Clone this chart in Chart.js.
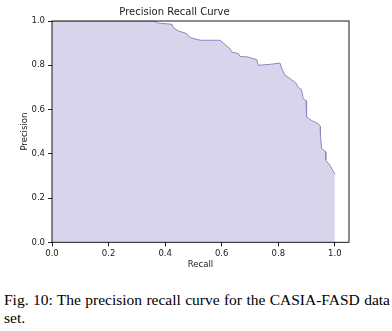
<!DOCTYPE html>
<html>
<head>
<meta charset="utf-8">
<script src="https://cdn.jsdelivr.net/npm/chart.js@4/dist/chart.umd.min.js"></script>
<style>
  html, body { margin: 0; padding: 0; background: #fff; overflow: hidden; }
  #wrap { position: absolute; left: 0; top: 0; width: 392px; height: 280px; }
  #caption {
    position: absolute; left: 4px; top: 291px; width: 386px;
    font-family: "Liberation Serif", serif; font-size: 15.5px; line-height: 18px;
    text-align: justify; color: #000;
  }
</style>
</head>
<body>
<div id="wrap"><canvas id="myChart" width="392" height="280"></canvas></div>
<div id="caption">Fig. 10: The precision recall curve for the CASIA-FASD data set.</div>
<script>
// values
const recall = [0, 0.359, 0.376, 0.424, 0.429, 0.447, 0.476, 0.488, 0.524, 0.594, 0.606, 0.629, 0.635, 0.659, 0.665, 0.694, 0.724, 0.729, 0.771, 0.806, 0.815, 0.824, 0.841, 0.862, 0.871, 0.882, 0.888, 0.898, 0.900, 0.918, 0.941, 0.949, 0.949, 0.953, 0.968, 0.968, 0.982, 0.992, 1.0];
const precision = [1.0, 1.0, 0.991, 0.985, 0.970, 0.955, 0.943, 0.925, 0.913, 0.913, 0.900, 0.875, 0.860, 0.853, 0.840, 0.837, 0.825, 0.800, 0.804, 0.810, 0.777, 0.755, 0.740, 0.720, 0.700, 0.690, 0.650, 0.640, 0.567, 0.550, 0.536, 0.524, 0.490, 0.424, 0.409, 0.371, 0.349, 0.326, 0.307];
const xTicks = [0, 0.2, 0.4, 0.6, 0.8, 1.0];
const yTicks = [0, 0.2, 0.4, 0.6, 0.8, 1.0];

const points = recall.map((r, i) => ({x: r, y: precision[i]}));
const tickFont = {family: 'DejaVu Sans', size: 8.5};

// top/left/bottom/right frame like matplotlib spines
const frame = {
  id: 'frame',
  afterDatasetsDraw(chart) {
    const a = chart.chartArea, c = chart.ctx;
    c.save();
    c.strokeStyle = '#000';
    c.lineWidth = 0.9;
    c.strokeRect(a.left, a.top, a.right - a.left, a.bottom - a.top);
    c.restore();
  }
};

const ctx = document.getElementById('myChart').getContext('2d');
const myChart = new Chart(ctx, {
  type: 'line',
  data: {
    datasets: [{
      data: points,
      borderColor: 'rgb(140, 136, 192)',
      backgroundColor: 'rgb(216, 212, 236)',
      borderWidth: 1,
      pointRadius: 0,
      tension: 0,
      fill: 'origin'
    }]
  },
  options: {
    responsive: false,
    animation: false,
    layout: {padding: {left: 0, right: 43, top: 0, bottom: 0}},
    plugins: {
      legend: {display: false},
      tooltip: {enabled: false},
      title: {
        display: true,
        text: 'Precision Recall Curve',
        color: '#1a1a1a',
        font: {family: 'DejaVu Sans', size: 10, weight: 'normal'},
        padding: {top: 6, bottom: 3}
      }
    },
    scales: {
      x: {
        type: 'linear',
        min: 0, max: 1.05,
        afterBuildTicks: s => { s.ticks = xTicks.map(v => ({value: v})); },
        afterFit: s => { s.height = 37.7; },
        grid: {drawOnChartArea: false, drawTicks: true, tickLength: 4, color: '#222'},
        border: {display: false},
        ticks: {color: '#1a1a1a', font: tickFont, padding: 2, maxRotation: 0,
                callback: v => v.toFixed(1)},
        title: {display: true, text: 'Recall', color: '#1a1a1a', font: tickFont,
                padding: {top: 8, bottom: 10}}
      },
      y: {
        min: 0, max: 1.0,
        afterBuildTicks: s => { s.ticks = yTicks.map(v => ({value: v})); },
        afterFit: s => { s.width = 52; },
        grid: {drawOnChartArea: false, drawTicks: true, tickLength: 4, color: '#222'},
        border: {display: false},
        ticks: {color: '#1a1a1a', font: tickFont, padding: 3,
                callback: v => v.toFixed(1)},
        title: {display: true, text: 'Precision', color: '#1a1a1a', font: tickFont,
                padding: {top: 20, bottom: 20}}
      }
    }
  },
  plugins: [frame]
});
</script>
</body>
</html>
